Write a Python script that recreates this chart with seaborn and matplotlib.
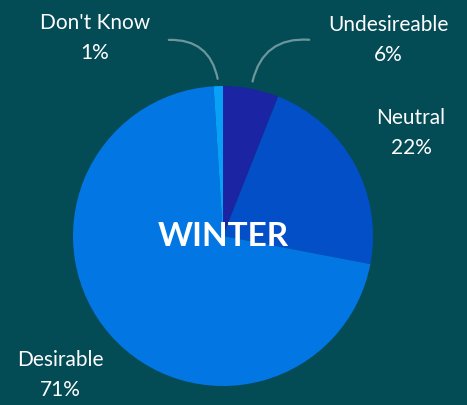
import numpy as np
import matplotlib.pyplot as plt
import seaborn as sns

categories = ["Undesireable", "Neutral", "Desirable", "Don't Know"]
shares = [6, 22, 71, 1]
colors = ["#1b24a2", "#034fc8", "#0277e3", "#09a0f7"]
title = "WINTER"

bg = "#034b55"
sns.set_theme(style="white")
plt.rcParams['font.family'] = ['Lato', 'DejaVu Sans']

fig = plt.figure(figsize=(4.67, 4.05), dpi=100, facecolor=bg)
ax = fig.add_axes([0, 0, 1, 1])
ax.set_facecolor(bg)

cx, cy, r = 223, 405 - 236, 150
wedges, _ = ax.pie(shares, colors=colors, startangle=90, counterclock=False,
                   center=(cx, cy), radius=r, wedgeprops=dict(linewidth=0))
ax.set_xlim(0, 467)
ax.set_ylim(0, 405)
ax.set_aspect('equal')
ax.axis('off')

ax.text(cx, cy, title, color='white', fontsize=24, fontweight='bold',
        ha='center', va='center')

# label positions (pixel coords, top-left origin) and whether to draw a leader line
label_pos = {"Undesireable": (388, 40, True), "Neutral": (411, 133, False),
             "Desirable": (60, 375, False), "Don't Know": (95, 38, True)}
for w, name, pct in zip(wedges, categories, shares):
    lx, ly, leader = label_pos[name]
    ax.text(lx, 405 - ly, f"{name}\n{pct}%", color='white', fontsize=15,
            fontweight='normal', ha='center', va='center', linespacing=1.6)
    if leader:
        ang = np.deg2rad((w.theta1 + w.theta2) / 2)
        ex = cx + 1.03 * r * np.cos(ang)
        ey = cy + 1.03 * r * np.sin(ang)
        sx = 166 if lx < cx else 312
        rad = -0.45 if lx < cx else 0.45
        ax.annotate("", xy=(ex, ey), xytext=(sx, 405 - 40),
                    arrowprops=dict(arrowstyle='-', color='#6b979c', lw=1.6,
                                    connectionstyle=f"arc3,rad={rad}"))

fig.savefig("out.png", dpi=100, facecolor=bg)
